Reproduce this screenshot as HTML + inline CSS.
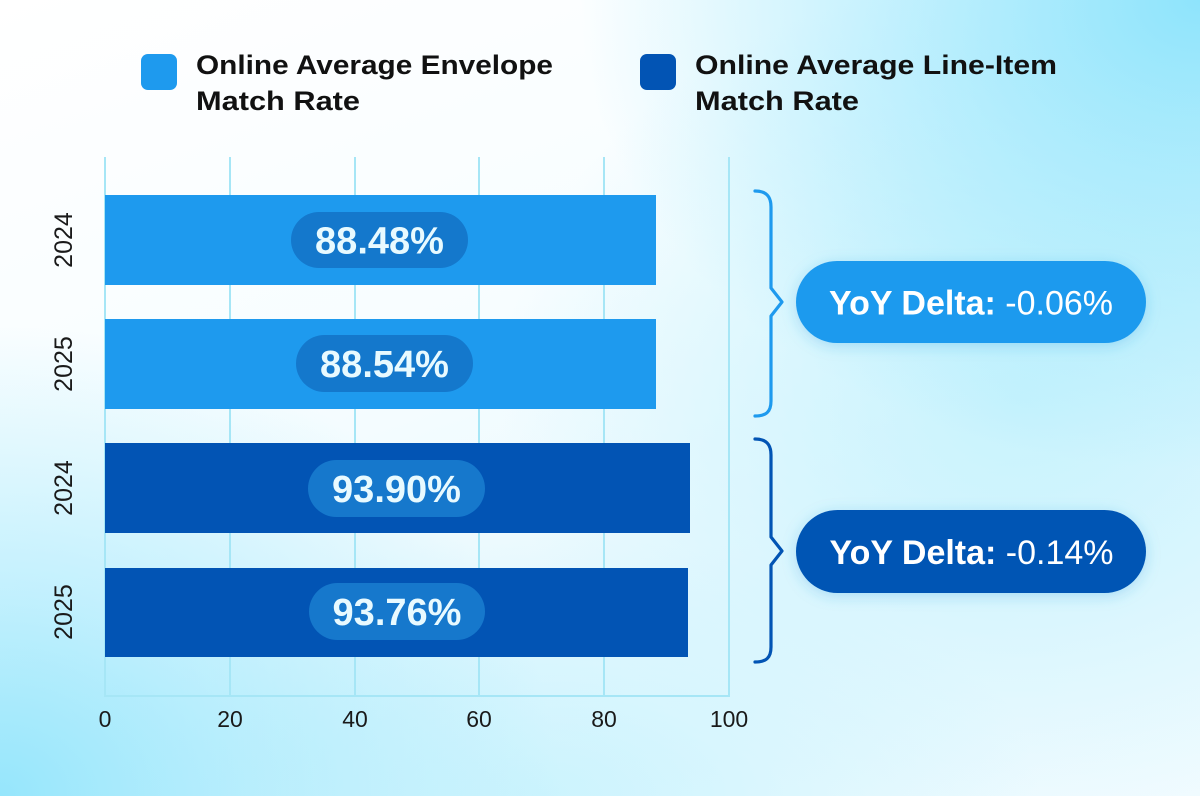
<!DOCTYPE html>
<html>
<head>
<meta charset="utf-8">
<style>
html,body{margin:0;padding:0;}
body{
  width:1200px;height:796px;overflow:hidden;position:relative;
  background:
    radial-gradient(ellipse 620px 470px at 100% 0%, rgba(142,228,252,1) 0%, rgba(142,228,252,0.55) 45%, rgba(142,228,252,0) 100%),
    radial-gradient(ellipse 560px 470px at 0% 100%, rgba(150,230,252,1) 0%, rgba(150,230,252,0.5) 45%, rgba(150,230,252,0) 100%),
    radial-gradient(ellipse 520px 420px at 85% 50%, rgba(196,242,253,0.9) 0%, rgba(196,242,253,0) 100%),
    radial-gradient(ellipse 500px 260px at 45% 100%, rgba(196,242,253,0.8) 0%, rgba(196,242,253,0) 100%),
    linear-gradient(160deg, #ffffff 0%, #f7fdff 40%, #e6f8fe 70%, #f0fbff 100%);
  font-family:"Liberation Sans", sans-serif;
}
svg{position:absolute;left:0;top:0;}
</style>
</head>
<body>
<svg width="1200" height="796" viewBox="0 0 1200 796" xmlns="http://www.w3.org/2000/svg">
  <defs>
    <filter id="sh" x="-20%" y="-40%" width="140%" height="180%">
      <feDropShadow dx="0" dy="3" stdDeviation="7" flood-color="#2a9be0" flood-opacity="0.28"/>
    </filter>
  </defs>

  <!-- Legend -->
  <rect x="141" y="54" width="36" height="36" rx="7" fill="#1E9AEE"/>
  <text x="196" y="74" font-size="27" font-weight="bold" fill="#111" textLength="357" lengthAdjust="spacingAndGlyphs">Online Average Envelope</text>
  <text x="196" y="110" font-size="27" font-weight="bold" fill="#111" textLength="164" lengthAdjust="spacingAndGlyphs">Match Rate</text>

  <rect x="640" y="54" width="36" height="36" rx="7" fill="#0254B4"/>
  <text x="695" y="74" font-size="27" font-weight="bold" fill="#111" textLength="362" lengthAdjust="spacingAndGlyphs">Online Average Line-Item</text>
  <text x="695" y="110" font-size="27" font-weight="bold" fill="#111" textLength="164" lengthAdjust="spacingAndGlyphs">Match Rate</text>

  <!-- Gridlines -->
  <g stroke="#A6E6F6" stroke-width="2">
    <line x1="105" y1="157" x2="105" y2="697"/>
    <line x1="230" y1="157" x2="230" y2="697"/>
    <line x1="355" y1="157" x2="355" y2="697"/>
    <line x1="479" y1="157" x2="479" y2="697"/>
    <line x1="604" y1="157" x2="604" y2="697"/>
    <line x1="729" y1="157" x2="729" y2="697"/>
    <line x1="104" y1="696" x2="730" y2="696"/>
  </g>

  <!-- Bars -->
  <rect x="105" y="195" width="551" height="90" fill="#1E9AEE"/>
  <rect x="105" y="319" width="551" height="90" fill="#1E9AEE"/>
  <rect x="105" y="443" width="585" height="90" fill="#0254B4"/>
  <rect x="105" y="568" width="583" height="89" fill="#0254B4"/>

  <!-- Value pills -->
  <rect x="291" y="212" width="177" height="56" rx="28" fill="#1478CC"/>
  <rect x="296" y="335" width="177" height="57" rx="28.5" fill="#1478CC"/>
  <rect x="308" y="460" width="177" height="57" rx="28.5" fill="#1678CC"/>
  <rect x="309" y="583" width="176" height="57" rx="28.5" fill="#1678CC"/>
  <g font-size="38" font-weight="bold" fill="#E8FAFF" text-anchor="middle">
    <text x="379.5" y="253.5">88.48%</text>
    <text x="384.5" y="377">88.54%</text>
    <text x="396.5" y="502">93.90%</text>
    <text x="397" y="625">93.76%</text>
  </g>

  <!-- Y labels -->
  <g font-size="25" fill="#1a1a1a" text-anchor="middle">
    <text transform="translate(72,240) rotate(-90)">2024</text>
    <text transform="translate(72,364) rotate(-90)">2025</text>
    <text transform="translate(72,488) rotate(-90)">2024</text>
    <text transform="translate(72,612) rotate(-90)">2025</text>
  </g>

  <!-- X tick labels -->
  <g font-size="23" fill="#1a1a1a" text-anchor="middle">
    <text x="105" y="727">0</text>
    <text x="230" y="727">20</text>
    <text x="355" y="727">40</text>
    <text x="479" y="727">60</text>
    <text x="604" y="727">80</text>
    <text x="729" y="727">100</text>
  </g>

  <!-- Braces -->
  <path d="M755,191 C766,191 771,196 771,207 L771,288 L782,302 L771,316 L771,401 C771,412 766,416 755,416" fill="none" stroke="#1E9AEE" stroke-width="3.2" stroke-linecap="round" stroke-linejoin="round"/>
  <path d="M755,439 C766,439 771,444 771,455 L771,537 L782,551 L771,565 L771,647 C771,658 766,662 755,662" fill="none" stroke="#0254B4" stroke-width="3.2" stroke-linecap="round" stroke-linejoin="round"/>

  <!-- Delta pills -->
  <rect x="796" y="261" width="350" height="82" rx="41" fill="#1E9AEE" filter="url(#sh)"/>
  <rect x="796" y="510" width="350" height="83" rx="41.5" fill="#0254B4" filter="url(#sh)"/>
  <text x="971" y="314.5" font-size="34" fill="#ffffff" text-anchor="middle"><tspan font-weight="bold">YoY Delta:</tspan> -0.06%</text>
  <text x="971.5" y="564" font-size="34" fill="#ffffff" text-anchor="middle"><tspan font-weight="bold">YoY Delta:</tspan> -0.14%</text>
</svg>
</body>
</html>
